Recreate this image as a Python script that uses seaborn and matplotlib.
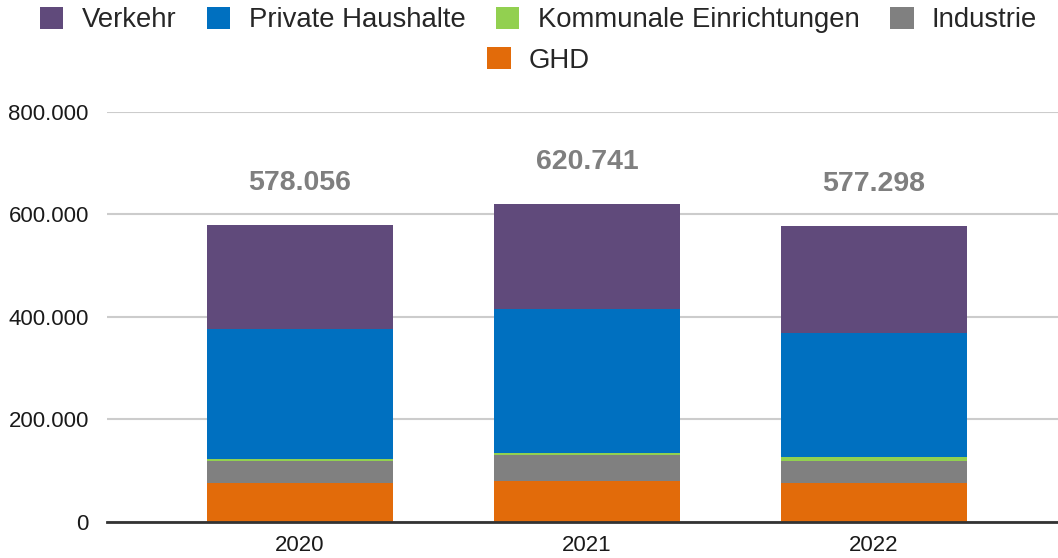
import matplotlib
matplotlib.use("Agg")
import matplotlib.pyplot as plt
import numpy as np
import pandas as pd
import seaborn as sns
from matplotlib.patches import Patch

years = ["2020", "2021", "2022"]
totals = [578056, 620741, 577298]
ghd = [75200, 79700, 75800]
industrie = [42400, 49600, 42400]
kommunale = [4500, 4500, 7200]
private = [253300, 280600, 242200]
verkehr = [t - g - i - k - p for t, g, i, k, p in zip(totals, ghd, industrie, kommunale, private)]

series = ["Verkehr", "Private Haushalte", "Kommunale Einrichtungen", "Industrie", "GHD"]
colors = {
    "Verkehr": "#604A7B",
    "Private Haushalte": "#0070C0",
    "Kommunale Einrichtungen": "#92D050",
    "Industrie": "#808080",
    "GHD": "#E26B0A",
}

df = pd.DataFrame({
    "year": years,
    "GHD": ghd,
    "Industrie": industrie,
    "Kommunale Einrichtungen": kommunale,
    "Private Haushalte": private,
    "Verkehr": verkehr,
})

sns.set_theme(style="white")
plt.rcParams["font.family"] = ["Liberation Sans", "DejaVu Sans"]

fig = plt.figure(figsize=(10.58, 5.58), dpi=100)
ax = fig.add_axes([0.101, 0.0654, 0.899, 0.7344])

# stacked bars: draw cumulative heights from the top layer down
stack_order = ["GHD", "Industrie", "Kommunale Einrichtungen", "Private Haushalte", "Verkehr"]
cum = df[stack_order].cumsum(axis=1)
for name in reversed(stack_order):
    sns.barplot(x=df["year"], y=cum[name], color=colors[name], width=0.648,
                saturation=1, linewidth=0, ax=ax, zorder=3)

for i, tot in enumerate(totals):
    label = f"{tot:,}".replace(",", ".")
    ax.text(i, tot + 82000, label, ha="center", va="center", fontsize=20.5,
            fontweight="bold", color="#7F7F7F")

ax.set_ylim(0, 800000)
ax.set_xlim(-0.672, 2.641)
ax.set_yticks([0, 200000, 400000, 600000, 800000])
ax.set_yticklabels(["0", "200.000", "400.000", "600.000", "800.000"])
ax.yaxis.grid(True, color="#CCCCCC", linewidth=1.5)
ax.set_axisbelow(True)
ax.set_xlabel("")
ax.set_ylabel("")
ax.tick_params(axis="y", length=0, pad=13, labelsize=16, labelcolor="#1a1a1a")
ax.tick_params(axis="x", length=0, pad=10, labelsize=16, labelcolor="#1a1a1a")
for side in ["top", "right", "left"]:
    ax.spines[side].set_visible(False)
ax.spines["bottom"].set_color("#333333")
ax.spines["bottom"].set_linewidth(2)
ax.spines["bottom"].set_zorder(5)

handles = [Patch(facecolor=colors[s], edgecolor="none", label=s) for s in series]
leg_kw = dict(loc="center", frameon=False, fontsize=19.8, handlelength=0.86,
              handleheight=0.86, handletextpad=0.67, columnspacing=1.1, borderpad=0)
fig.legend(handles=handles[:4], ncol=4, bbox_to_anchor=(0.509, 0.964), **leg_kw)
fig.legend(handles=handles[4:], ncol=1, bbox_to_anchor=(0.509, 0.892), **leg_kw)

fig.savefig("out.png", dpi=100)
